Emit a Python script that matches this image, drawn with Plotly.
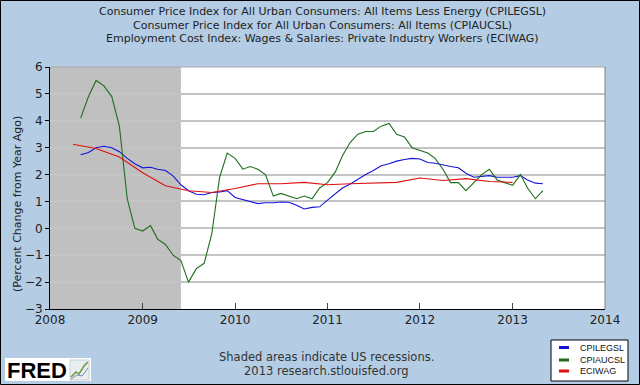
import plotly.graph_objects as go
import pandas as pd

# ---------------- data ----------------
months = pd.date_range("2008-05-01", "2013-05-01", freq="MS")
quarters = pd.date_range("2008-04-01", "2013-01-01", freq="QS")

cpilegsl = [
    2.74, 2.82, 3.00, 3.05, 3.00, 2.85, 2.60, 2.40,
    2.25, 2.27, 2.20, 2.15, 1.95, 1.62, 1.40, 1.27, 1.25, 1.33, 1.35, 1.40,
    1.15, 1.08, 1.00, 0.92, 0.95, 0.95, 0.98, 0.97, 0.86, 0.72, 0.78, 0.80,
    1.05, 1.30, 1.50, 1.65, 1.83, 2.00, 2.15, 2.33, 2.40, 2.50, 2.56, 2.60,
    2.58, 2.45, 2.42, 2.35, 2.30, 2.25, 2.05, 1.90, 1.92, 1.96, 1.90, 1.89,
    1.90, 1.96, 1.80, 1.68, 1.66,
]
cpiaucsl = [
    4.1, 4.9, 5.5, 5.3, 4.9, 3.8, 1.1, 0.0,
    -0.1, 0.1, -0.4, -0.6, -1.0, -1.2, -2.0, -1.5, -1.3, -0.2, 1.9, 2.8,
    2.6, 2.2, 2.3, 2.2, 2.0, 1.2, 1.3, 1.2, 1.1, 1.2, 1.1, 1.5,
    1.7, 2.1, 2.7, 3.2, 3.5, 3.6, 3.6, 3.8, 3.9, 3.5, 3.4, 3.0,
    2.9, 2.8, 2.6, 2.2, 1.7, 1.7, 1.4, 1.7, 2.0, 2.2, 1.8, 1.7,
    1.6, 2.0, 1.5, 1.1, 1.4,
]
eciwag = [
    3.13, 2.97, 2.65, 2.07, 1.58, 1.40, 1.33, 1.48, 1.66, 1.66,
    1.71, 1.62, 1.66, 1.69, 1.71, 1.87, 1.78, 1.85, 1.74, 1.71,
]

series_names = ["CPILEGSL", "CPIAUCSL", "ECIWAG"]
series_colors = ["#1414D8", "#1E6E1E", "#DD1010"]
title_lines = [
    "Consumer Price Index for All Urban Consumers: All Items Less Energy (CPILEGSL)",
    "Consumer Price Index for All Urban Consumers: All Items (CPIAUCSL)",
    "Employment Cost Index: Wages &amp; Salaries: Private Industry Workers (ECIWAG)",
]
recession = ("2008-01-01", "2009-06-01")

# ---------------- layout helpers ----------------
W, H = 640, 385
L, R, T, B = 50, 605, 67, 309


def px(x):
    return (x - L) / (R - L)


def py(y):
    return (B - y) / (B - T)


BG = "#B4CDE4"
FONT = "DejaVu Sans"

fig = go.Figure()
for x, y, name, col in zip([months, months, quarters],
                           [cpilegsl, cpiaucsl, eciwag],
                           series_names, series_colors):
    fig.add_trace(go.Scatter(x=x, y=y, mode="lines", name=name,
                             line=dict(color=col, width=1.1),
                             showlegend=False))

shapes = []
# recession shading
shapes.append(dict(type="rect", xref="x", yref="paper", x0=recession[0], x1=recession[1],
                   y0=0, y1=1, fillcolor="#C0C0C0", line=dict(width=0), layer="between"))
# top / right plot border
shapes.append(dict(type="line", xref="paper", yref="paper", x0=0, x1=1, y0=1, y1=1,
                   line=dict(color="#A8A8A8", width=1)))
shapes.append(dict(type="line", xref="paper", yref="paper", x0=1, x1=1, y0=0, y1=1,
                   line=dict(color="#808080", width=1)))
# outer frame
shapes.append(dict(type="rect", xref="paper", yref="paper", x0=px(0.5), x1=px(639.5),
                   y0=py(384.5), y1=py(0.5), line=dict(color="black", width=1)))
# legend box
shapes.append(dict(type="rect", xref="paper", yref="paper", x0=px(551), x1=px(628),
                   y0=py(381), y1=py(340), fillcolor="white", line=dict(color="black", width=1)))
leg_y = [347.5, 360, 371]
for yy, col in zip(leg_y, series_colors):
    shapes.append(dict(type="line", xref="paper", yref="paper", x0=px(559), x1=px(569),
                       y0=py(yy), y1=py(yy), line=dict(color=col, width=3)))
# FRED logo box
shapes.append(dict(type="rect", xref="paper", yref="paper", x0=px(5), x1=px(91),
                   y0=py(381), y1=py(358), fillcolor="white", line=dict(width=0)))
shapes.append(dict(type="rect", xref="paper", yref="paper", x0=px(70), x1=px(89),
                   y0=py(380), y1=py(360), fillcolor="#E8EEF0", line=dict(color="#C8D0D0", width=1)))
shapes.append(dict(type="path", xref="paper", yref="paper",
                   path="M {} {} L {} {} L {} {} L {} {} L {} {}".format(
                       px(71), py(377), px(76), py(372), px(79), py(374), px(84), py(366), px(88), py(362)),
                   line=dict(color="#6A9A3A", width=1.5)))
shapes.append(dict(type="path", xref="paper", yref="paper",
                   path="M {} {} L {} {} L {} {} L {} {}".format(
                       px(71), py(379), px(77), py(375), px(82), py(376), px(88), py(368)),
                   line=dict(color="#7A8AB8", width=1)))

annotations = []
for i, t in enumerate(title_lines):
    annotations.append(dict(text=t, xref="paper", yref="paper", x=px(322), y=py(12 + 13.5 * i),
                            xanchor="center", yanchor="middle", showarrow=False,
                            font=dict(family=FONT, size=11, color="#222")))
annotations.append(dict(text="(Percent Change from Year Ago)", xref="paper", yref="paper",
                        x=px(17), y=py(204), textangle=-90, xanchor="center", yanchor="middle",
                        showarrow=False, font=dict(family=FONT, size=11, color="#222")))
annotations.append(dict(text="Shaded areas indicate US recessions.", xref="paper", yref="paper",
                        x=px(326), y=py(357), xanchor="center", yanchor="middle", showarrow=False,
                        font=dict(family=FONT, size=11.5, color="#333")))
annotations.append(dict(text="2013 research.stlouisfed.org", xref="paper", yref="paper",
                        x=px(326), y=py(371), xanchor="center", yanchor="middle", showarrow=False,
                        font=dict(family=FONT, size=11.5, color="#333")))
for yy, name in zip(leg_y, series_names):
    annotations.append(dict(text=name, xref="paper", yref="paper", x=px(578), y=py(yy),
                            xanchor="left", yanchor="middle", showarrow=False,
                            font=dict(family="Liberation Sans", size=9, color="#111")))
annotations.append(dict(text="<b>FRED</b>", xref="paper", yref="paper", x=px(5), y=py(370),
                        xanchor="left", yanchor="middle", showarrow=False,
                        font=dict(family="Liberation Sans", size=22, color="black")))

fig.update_layout(
    width=W, height=H,
    margin=dict(l=L, r=W - R, t=T, b=H - B, pad=0),
    paper_bgcolor=BG, plot_bgcolor="white",
    showlegend=False,
    shapes=shapes, annotations=annotations,
    xaxis=dict(type="date", range=["2008-01-01", "2014-01-01"], tick0="2008-01-01", dtick="M12",
               tickformat="%Y", ticks="inside", ticklen=6, tickcolor="#444", tickwidth=1,
               showgrid=False, showline=True, linecolor="black", linewidth=1,
               tickfont=dict(family=FONT, size=12, color="#222"), zeroline=False),
    yaxis=dict(range=[-3, 6], dtick=1, tick0=0, ticks="outside", ticklen=4, tickcolor="black",
               showgrid=True, gridcolor="#C4C4C4", gridwidth=1.5, zeroline=False,
               showline=True, linecolor="black", linewidth=1,
               tickfont=dict(family=FONT, size=12, color="#222")),
)

fig.write_html("out.html", config={"displayModeBar": False},
               post_script="document.body.style.margin='0';")
